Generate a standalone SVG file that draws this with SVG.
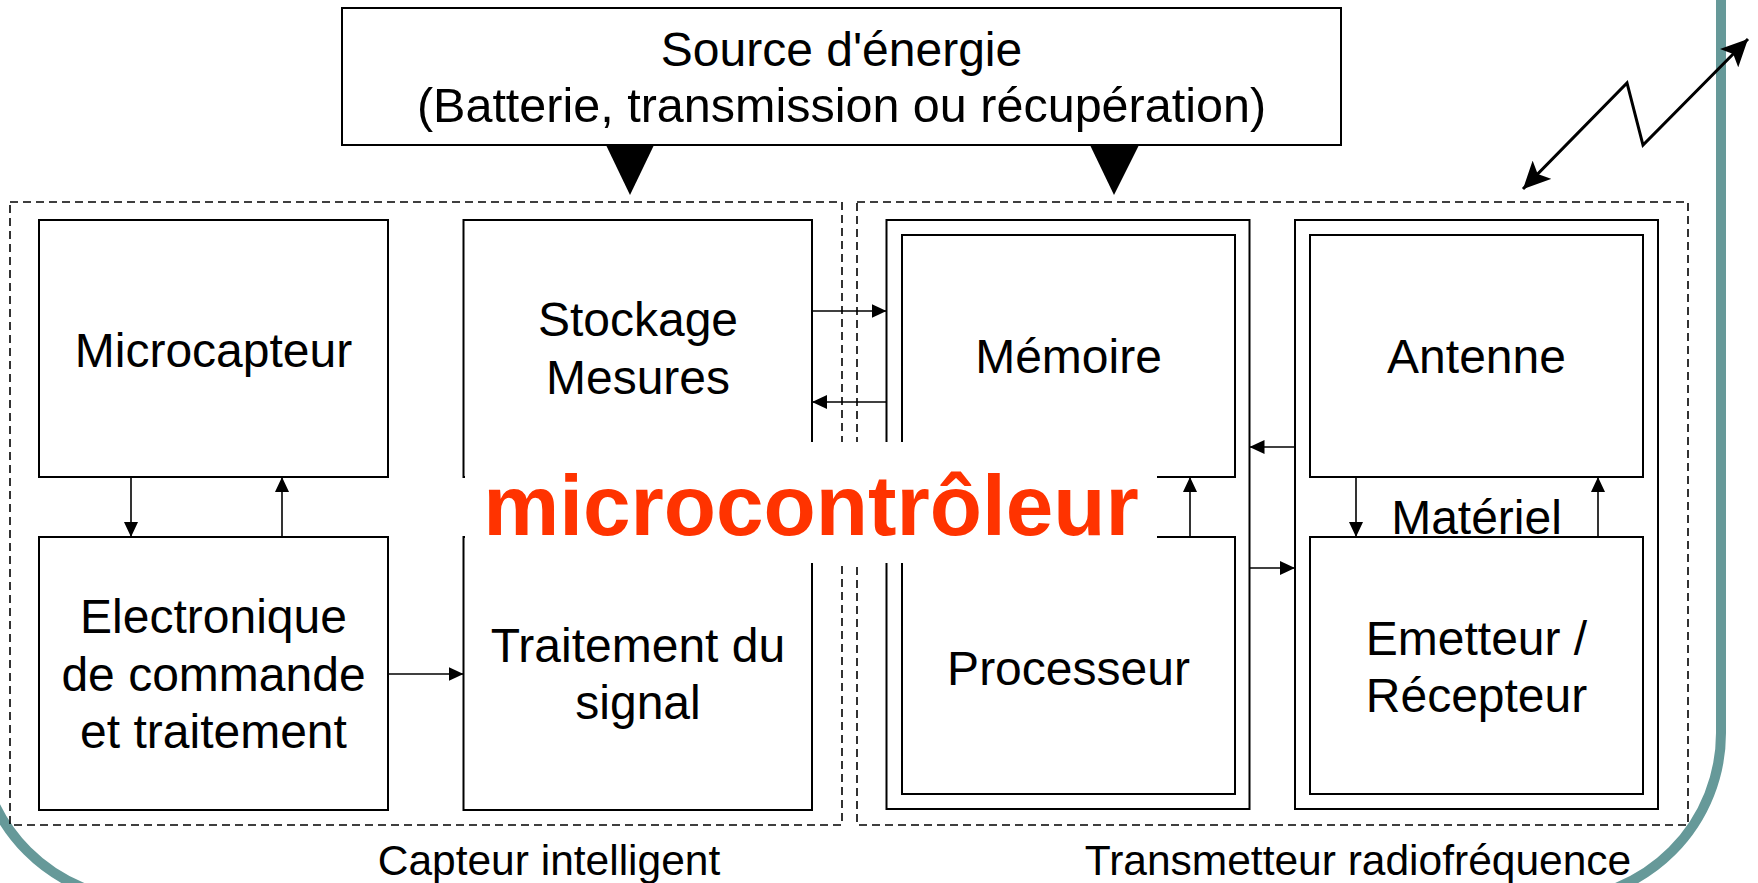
<svg xmlns="http://www.w3.org/2000/svg" width="1758" height="883" viewBox="0 0 1758 883">
<defs>
<style>
.box{fill:none;stroke:#000;stroke-width:2}
.dash{fill:none;stroke:#000;stroke-width:1.6;stroke-dasharray:8 5}
.lbl{font-family:"Liberation Sans",Arial,sans-serif;font-size:48px;fill:#000;text-anchor:middle}
.cap{font-family:"Liberation Sans",Arial,sans-serif;font-size:42.5px;fill:#000;text-anchor:middle}
.ar{fill:none;stroke:#000;stroke-width:1.6;marker-end:url(#ah)}
.zz{fill:none;stroke:#000;stroke-width:3;stroke-linejoin:miter;marker-end:url(#bigE);marker-start:url(#bigS)}
</style>
<marker id="ah" markerUnits="userSpaceOnUse" markerWidth="15" markerHeight="14" refX="15" refY="7" orient="auto" viewBox="0 0 15 14"><path d="M0,0 L15,7 L0,14 z" fill="#000"/></marker>
<marker id="bigE" markerUnits="userSpaceOnUse" markerWidth="27" markerHeight="26" refX="27" refY="13" orient="auto" viewBox="0 0 27 26"><path d="M0,0 L27,13 L0,26 L6,13 z" fill="#000"/></marker>
<marker id="bigS" markerUnits="userSpaceOnUse" markerWidth="27" markerHeight="26" refX="0" refY="13" orient="auto" viewBox="0 0 27 26"><path d="M27,0 L0,13 L27,26 L21,13 z" fill="#000"/></marker>
</defs>
<rect width="1758" height="883" fill="#fff"/>
<rect id="frame" x="-21.5" y="-400" width="1742.5" height="1300" rx="167" fill="none" stroke="#669999" stroke-width="10"/>

<g id="source">
<rect class="box" x="342" y="8" width="999" height="137"/>
<text class="lbl" x="841.5" y="66" font-size="48.5">Source d'énergie</text>
<text class="lbl" x="841.5" y="122" style="font-size:48.5px">(Batterie, transmission ou récupération)</text>
</g>

<g id="capteur-intelligent">
<rect class="dash" x="10" y="202" width="832" height="623"/>
<text class="cap" x="549" y="875">Capteur intelligent</text>
</g>
<g id="transmetteur">
<rect class="dash" x="857" y="202" width="831" height="623"/>
<text class="cap" x="1358" y="875">Transmetteur radiofréquence</text>
</g>

<g id="microcapteur">
<rect class="box" x="39" y="220" width="349" height="257"/>
<text class="lbl" x="213.5" y="367">Microcapteur</text>
</g>
<g id="electronique">
<rect class="box" x="39" y="537" width="349" height="273"/>
<text class="lbl" x="213.5" y="633">Electronique</text>
<text class="lbl" x="213.5" y="691">de commande</text>
<text class="lbl" x="213.5" y="748">et traitement</text>
</g>
<g id="stockage">
<rect class="box" x="463.5" y="220" width="348.5" height="257"/>
<text class="lbl" x="638" y="336">Stockage</text>
<text class="lbl" x="638" y="394">Mesures</text>
</g>
<g id="traitement">
<rect class="box" x="463.5" y="537" width="348.5" height="273"/>
<text class="lbl" x="638" y="662">Traitement du</text>
<text class="lbl" x="638" y="719">signal</text>
</g>
<g id="mcu-frame">
<rect class="box" x="886.5" y="220" width="363" height="589"/>
</g>
<g id="memoire">
<rect class="box" x="902" y="235" width="333" height="242"/>
<text class="lbl" x="1068.5" y="373">Mémoire</text>
</g>
<g id="processeur">
<rect class="box" x="902" y="537" width="333" height="257"/>
<text class="lbl" x="1068.5" y="685">Processeur</text>
</g>
<g id="materiel-frame">
<rect class="box" x="1295" y="220" width="363" height="589"/>
<text class="lbl" x="1476.5" y="534">Matériel</text>
</g>
<g id="antenne">
<rect class="box" x="1310" y="235" width="333" height="242"/>
<text class="lbl" x="1476.5" y="373">Antenne</text>
</g>
<g id="emetteur">
<rect class="box" x="1310" y="537" width="333" height="257"/>
<text class="lbl" x="1476.5" y="655">Emetteur /</text>
<text class="lbl" x="1476.5" y="712">Récepteur</text>
</g>

<g id="connectors">
<polygon points="606,145 654,145 630,195" fill="#000"/>
<polygon points="1090,145 1139,145 1114,195" fill="#000"/>
<line class="ar" x1="131" y1="477" x2="131" y2="537"/>
<line class="ar" x1="282" y1="537" x2="282" y2="477"/>
<line class="ar" x1="388" y1="674" x2="463.5" y2="674"/>
<line class="ar" x1="812" y1="311" x2="886.5" y2="311"/>
<line class="ar" x1="886.5" y1="402" x2="812" y2="402"/>
<line class="ar" x1="1190" y1="537" x2="1190" y2="477"/>
<line class="ar" x1="1295" y1="447" x2="1249.5" y2="447"/>
<line class="ar" x1="1249.5" y1="568" x2="1295" y2="568"/>
<line class="ar" x1="1356" y1="477" x2="1356" y2="537"/>
<line class="ar" x1="1598" y1="537" x2="1598" y2="477"/>
<polyline class="zz" points="1523,189 1627,83 1643,145 1748,39"/>
</g>

<g id="microcontroleur">
<rect x="465" y="442" width="692" height="121" fill="#fff"/>
<text x="811" y="535" font-family="'Liberation Sans',Arial,sans-serif" font-size="85.5" font-weight="bold" fill="#ff3300" text-anchor="middle">microcontrôleur</text>
</g>
</svg>
